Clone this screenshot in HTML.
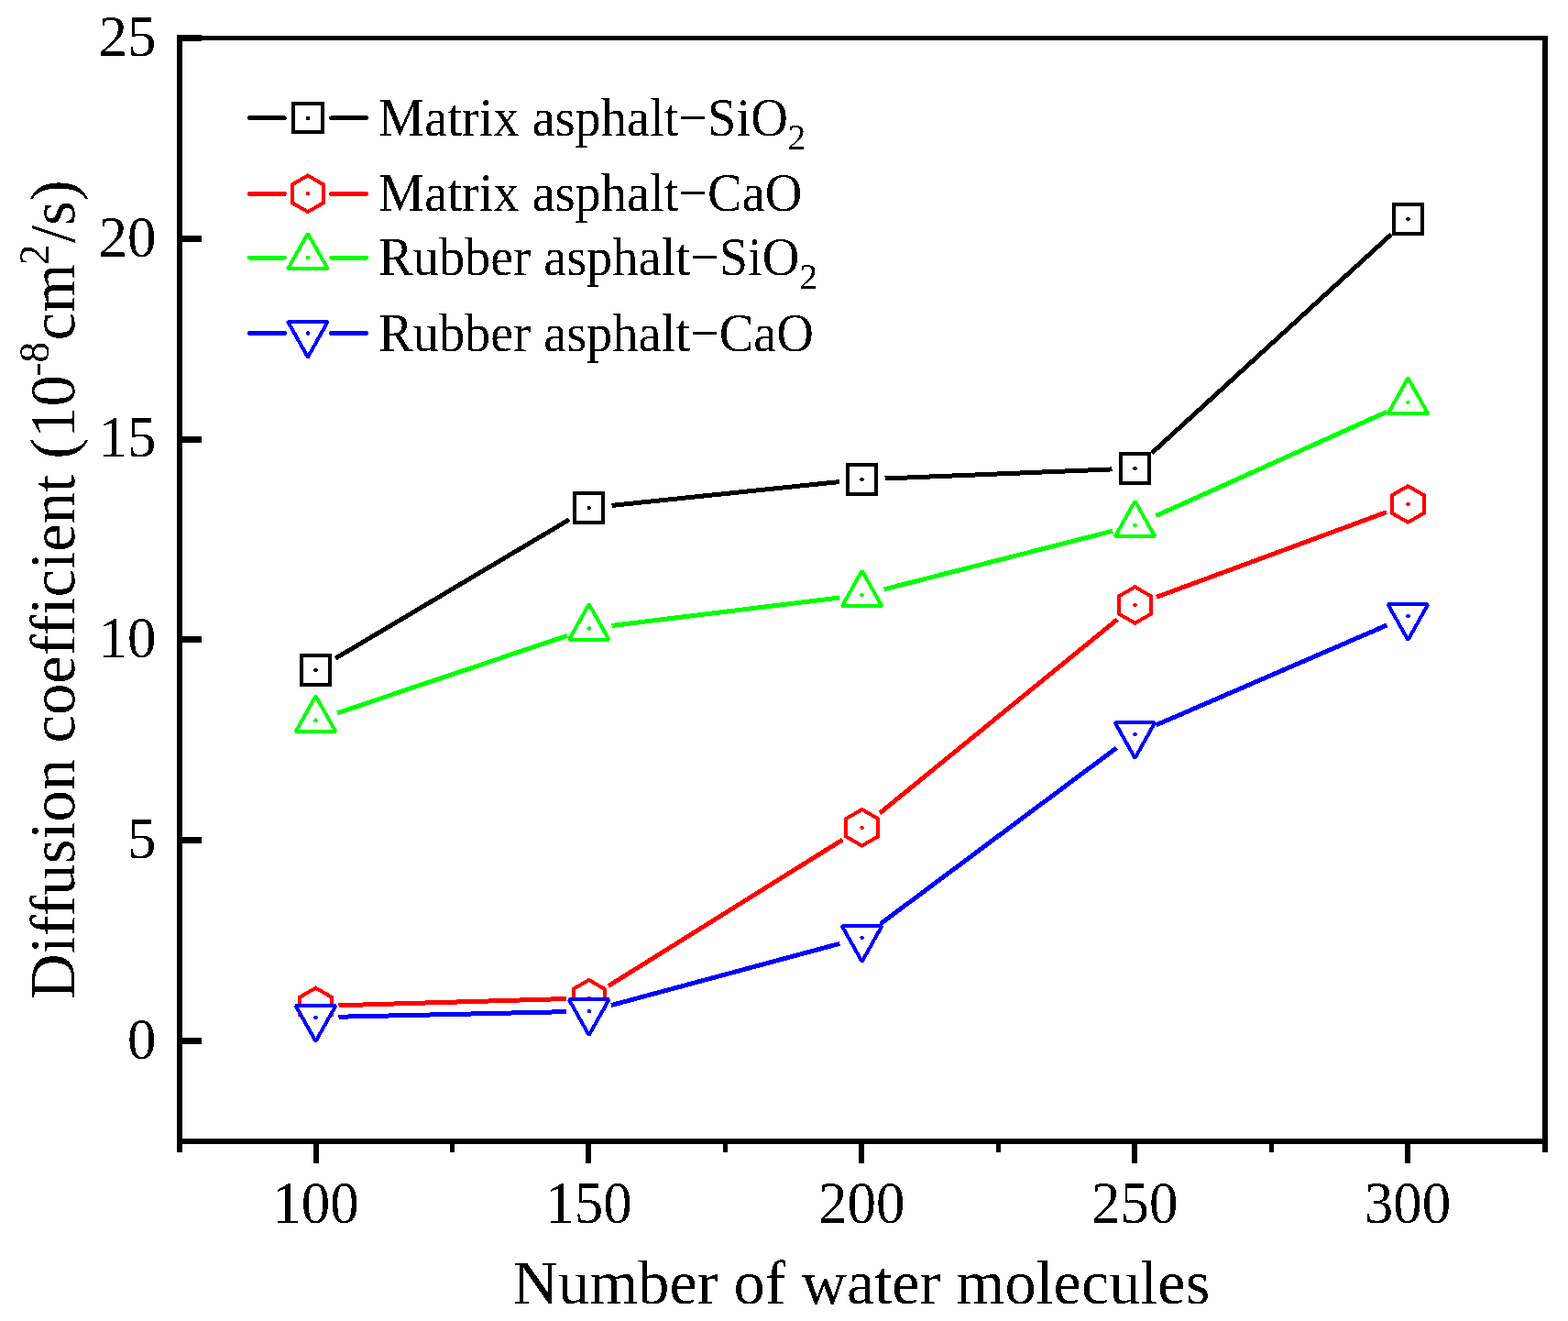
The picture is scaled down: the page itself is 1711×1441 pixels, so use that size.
<!DOCTYPE html>
<html><head><meta charset="utf-8"><style>
html,body{margin:0;padding:0;background:#fff;}
body{width:1711px;height:1441px;overflow:hidden;}
svg{display:block;}
text{font-family:"Liberation Serif","Times New Roman",serif;fill:#000;filter:url(#bin);}
</style></head><body>
<svg shape-rendering="crispEdges" width="1711" height="1441" viewBox="0 0 1711 1441">
<rect width="1711" height="1441" fill="#fff"/>
<defs><filter id="bin" x="-5%" y="-5%" width="110%" height="110%" color-interpolation-filters="sRGB"><feComponentTransfer><feFuncA type="discrete" tableValues="0 1"/></feComponentTransfer></filter></defs>
<g fill="#000">
<rect x="193" y="39" width="6" height="1218"/>
<rect x="1683" y="39" width="6" height="1218"/>
<rect x="193" y="39" width="1496" height="5"/>
<rect x="193" y="1242" width="1496" height="6"/>
<rect x="193" y="1131.90" width="27" height="7"/>
<rect x="193" y="913.15" width="27" height="7"/>
<rect x="193" y="694.40" width="27" height="7"/>
<rect x="193" y="475.65" width="27" height="7"/>
<rect x="193" y="256.90" width="27" height="7"/>
<rect x="193" y="38.15" width="27" height="7"/>
<rect x="341.50" y="1248" width="6" height="21"/>
<rect x="639.40" y="1248" width="6" height="21"/>
<rect x="937.30" y="1248" width="6" height="21"/>
<rect x="1235.20" y="1248" width="6" height="21"/>
<rect x="1533.10" y="1248" width="6" height="21"/>
<rect x="490.95" y="1248" width="5" height="9"/>
<rect x="788.85" y="1248" width="5" height="9"/>
<rect x="1086.75" y="1248" width="5" height="9"/>
<rect x="1384.65" y="1248" width="5" height="9"/>
</g>
<text transform="translate(170.4,1154.50) scale(1,1.022)" font-size="63" text-anchor="end">0</text>
<text transform="translate(170.4,935.75) scale(1,1.022)" font-size="63" text-anchor="end">5</text>
<text transform="translate(170.4,717.00) scale(1,1.022)" font-size="63" text-anchor="end">10</text>
<text transform="translate(170.4,498.25) scale(1,1.022)" font-size="63" text-anchor="end">15</text>
<text transform="translate(170.4,279.50) scale(1,1.022)" font-size="63" text-anchor="end">20</text>
<text transform="translate(170.4,60.75) scale(1,1.022)" font-size="63" text-anchor="end">25</text>
<text transform="translate(344.50,1333.7) scale(1,1.025)" font-size="63" text-anchor="middle">100</text>
<text transform="translate(642.40,1333.7) scale(1,1.025)" font-size="63" text-anchor="middle">150</text>
<text transform="translate(940.30,1333.7) scale(1,1.025)" font-size="63" text-anchor="middle">200</text>
<text transform="translate(1238.20,1333.7) scale(1,1.025)" font-size="63" text-anchor="middle">250</text>
<text transform="translate(1536.10,1333.7) scale(1,1.025)" font-size="63" text-anchor="middle">300</text>
<text x="940" y="1422" font-size="68.3" text-anchor="middle">Number of water molecules</text>
<text transform="translate(81.3,1090) rotate(-90)" x="0" y="0" font-size="68.75">Diffusion coefficient (10<tspan font-size="46.1" dx="-2" dy="-28.5">-8</tspan><tspan dx="1" dy="28.5">cm</tspan><tspan font-size="46.1" dx="-2" dy="-28.5">2</tspan><tspan dx="1.5" dy="28.5">/s)</tspan></text>
<path d="M366.00,718.24L621.20,566.76M667.57,551.41L915.73,525.59M965.58,521.99L1213.52,511.91M1256.97,494.05L1517.93,255.85" fill="none" stroke="#000000" stroke-width="5.0" stroke-linecap="butt"/>
<path d="M369.49,1096.77L617.71,1089.53M663.91,1075.56L919.39,916.04M959.98,887.01L1219.12,675.79M1261.95,651.34L1512.95,558.66" fill="none" stroke="#ff0000" stroke-width="5.0" stroke-linecap="butt"/>
<path d="M368.20,777.74L619.00,693.46M667.51,682.46L915.79,652.04M964.82,642.82L1214.28,579.18M1261.29,562.73L1513.61,449.07" fill="none" stroke="#00ff00" stroke-width="5.0" stroke-linecap="butt"/>
<path d="M369.49,1109.24L617.71,1103.66M666.84,1096.59L916.46,1029.31M960.65,1007.87L1218.45,815.83M1261.44,790.97L1513.46,681.93" fill="none" stroke="#0000ff" stroke-width="5.0" stroke-linecap="butt"/>
<path d="M328.90,715.40H360.10V746.60H328.90Z" fill="#fff" stroke="#000000" stroke-width="4.0" stroke-linejoin="miter"/><circle cx="344.50" cy="731.00" r="2.3" fill="#000000"/>
<path d="M627.10,538.40H658.30V569.60H627.10Z" fill="#fff" stroke="#000000" stroke-width="4.0" stroke-linejoin="miter"/><circle cx="642.70" cy="554.00" r="2.3" fill="#000000"/>
<path d="M925.00,507.40H956.20V538.60H925.00Z" fill="#fff" stroke="#000000" stroke-width="4.0" stroke-linejoin="miter"/><circle cx="940.60" cy="523.00" r="2.3" fill="#000000"/>
<path d="M1222.90,495.30H1254.10V526.50H1222.90Z" fill="#fff" stroke="#000000" stroke-width="4.0" stroke-linejoin="miter"/><circle cx="1238.50" cy="510.90" r="2.3" fill="#000000"/>
<path d="M1520.80,223.40H1552.00V254.60H1520.80Z" fill="#fff" stroke="#000000" stroke-width="4.0" stroke-linejoin="miter"/><circle cx="1536.40" cy="239.00" r="2.3" fill="#000000"/>
<path d="M344.50,1077.70L361.65,1087.60L361.65,1107.40L344.50,1117.30L327.35,1107.40L327.35,1087.60Z" fill="#fff" stroke="#ff0000" stroke-width="4.0" stroke-linejoin="miter"/><circle cx="344.50" cy="1097.50" r="2.3" fill="#ff0000"/>
<path d="M642.70,1069.00L659.85,1078.90L659.85,1098.70L642.70,1108.60L625.55,1098.70L625.55,1078.90Z" fill="#fff" stroke="#ff0000" stroke-width="4.0" stroke-linejoin="miter"/><circle cx="642.70" cy="1088.80" r="2.3" fill="#ff0000"/>
<path d="M940.60,883.00L957.75,892.90L957.75,912.70L940.60,922.60L923.45,912.70L923.45,892.90Z" fill="#fff" stroke="#ff0000" stroke-width="4.0" stroke-linejoin="miter"/><circle cx="940.60" cy="902.80" r="2.3" fill="#ff0000"/>
<path d="M1238.50,640.20L1255.65,650.10L1255.65,669.90L1238.50,679.80L1221.35,669.90L1221.35,650.10Z" fill="#fff" stroke="#ff0000" stroke-width="4.0" stroke-linejoin="miter"/><circle cx="1238.50" cy="660.00" r="2.3" fill="#ff0000"/>
<path d="M1536.40,530.20L1553.55,540.10L1553.55,559.90L1536.40,569.80L1519.25,559.90L1519.25,540.10Z" fill="#fff" stroke="#ff0000" stroke-width="4.0" stroke-linejoin="miter"/><circle cx="1536.40" cy="550.00" r="2.3" fill="#ff0000"/>
<path d="M344.50,759.30L366.30,798.10L322.70,798.10Z" fill="#fff" stroke="#00ff00" stroke-width="4.0" stroke-linejoin="bevel"/><circle cx="344.50" cy="785.70" r="2.3" fill="#00ff00"/>
<path d="M642.70,659.10L664.50,697.90L620.90,697.90Z" fill="#fff" stroke="#00ff00" stroke-width="4.0" stroke-linejoin="bevel"/><circle cx="642.70" cy="685.50" r="2.3" fill="#00ff00"/>
<path d="M940.60,622.60L962.40,661.40L918.80,661.40Z" fill="#fff" stroke="#00ff00" stroke-width="4.0" stroke-linejoin="bevel"/><circle cx="940.60" cy="649.00" r="2.3" fill="#00ff00"/>
<path d="M1238.50,546.60L1260.30,585.40L1216.70,585.40Z" fill="#fff" stroke="#00ff00" stroke-width="4.0" stroke-linejoin="bevel"/><circle cx="1238.50" cy="573.00" r="2.3" fill="#00ff00"/>
<path d="M1536.40,412.40L1558.20,451.20L1514.60,451.20Z" fill="#fff" stroke="#00ff00" stroke-width="4.0" stroke-linejoin="bevel"/><circle cx="1536.40" cy="438.80" r="2.3" fill="#00ff00"/>
<path d="M344.50,1135.90L366.30,1097.10L322.70,1097.10Z" fill="#fff" stroke="#0000ff" stroke-width="4.0" stroke-linejoin="bevel"/><circle cx="344.50" cy="1109.80" r="2.3" fill="#0000ff"/>
<path d="M642.70,1129.20L664.50,1090.40L620.90,1090.40Z" fill="#fff" stroke="#0000ff" stroke-width="4.0" stroke-linejoin="bevel"/><circle cx="642.70" cy="1103.10" r="2.3" fill="#0000ff"/>
<path d="M940.60,1048.90L962.40,1010.10L918.80,1010.10Z" fill="#fff" stroke="#0000ff" stroke-width="4.0" stroke-linejoin="bevel"/><circle cx="940.60" cy="1022.80" r="2.3" fill="#0000ff"/>
<path d="M1238.50,827.00L1260.30,788.20L1216.70,788.20Z" fill="#fff" stroke="#0000ff" stroke-width="4.0" stroke-linejoin="bevel"/><circle cx="1238.50" cy="800.90" r="2.3" fill="#0000ff"/>
<path d="M1536.40,698.10L1558.20,659.30L1514.60,659.30Z" fill="#fff" stroke="#0000ff" stroke-width="4.0" stroke-linejoin="bevel"/><circle cx="1536.40" cy="672.00" r="2.3" fill="#0000ff"/>
<path d="M272.5,128.8H310.2M361.7,128.8H399.5" stroke="#000000" stroke-width="5.0" stroke-linecap="round"/>
<path d="M320.30,113.20H351.50V144.40H320.30Z" fill="#fff" stroke="#000000" stroke-width="4.0" stroke-linejoin="miter"/><circle cx="335.90" cy="128.80" r="2.3" fill="#000000"/>
<text transform="translate(413.1,148.3) scale(1,1.04)" x="0" y="0" font-size="56.4">Matrix asphalt−SiO<tspan font-size="38.9" dy="14.4">2</tspan></text>
<path d="M272.5,211.3H310.2M361.7,211.3H399.5" stroke="#ff0000" stroke-width="5.0" stroke-linecap="round"/>
<path d="M335.90,191.50L353.05,201.40L353.05,221.20L335.90,231.10L318.75,221.20L318.75,201.40Z" fill="#fff" stroke="#ff0000" stroke-width="4.0" stroke-linejoin="miter"/><circle cx="335.90" cy="211.30" r="2.3" fill="#ff0000"/>
<text transform="translate(413.1,230.3) scale(1,1.04)" x="0" y="0" font-size="56.4">Matrix asphalt−CaO</text>
<path d="M272.5,281H310.2M361.7,281H399.5" stroke="#00ff00" stroke-width="5.0" stroke-linecap="round"/>
<path d="M335.90,254.60L357.70,293.40L314.10,293.40Z" fill="#fff" stroke="#00ff00" stroke-width="4.0" stroke-linejoin="bevel"/><circle cx="335.90" cy="281.00" r="2.3" fill="#00ff00"/>
<text transform="translate(413.1,300) scale(1,1.04)" x="0" y="0" font-size="56.4">Rubber asphalt−SiO<tspan font-size="38.9" dy="14.4">2</tspan></text>
<path d="M272.5,363.5H310.2M361.7,363.5H399.5" stroke="#0000ff" stroke-width="5.0" stroke-linecap="round"/>
<path d="M335.90,389.60L357.70,350.80L314.10,350.80Z" fill="#fff" stroke="#0000ff" stroke-width="4.0" stroke-linejoin="bevel"/><circle cx="335.90" cy="363.50" r="2.3" fill="#0000ff"/>
<text transform="translate(413.1,383) scale(1,1.04)" x="0" y="0" font-size="56.4">Rubber asphalt−CaO</text>
</svg></body></html>
